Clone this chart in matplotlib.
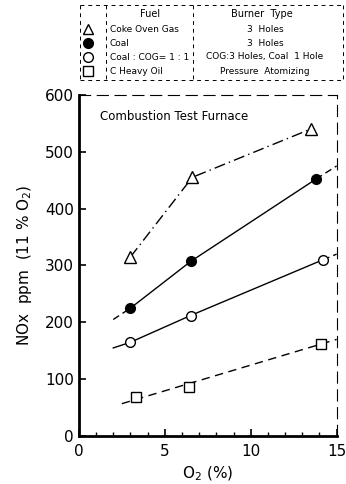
import matplotlib
matplotlib.use("Agg")
import matplotlib.pyplot as plt
from matplotlib.lines import Line2D

# data
o2_cog = [3.0, 6.6, 13.5]
nox_cog = [315, 455, 540]
o2_coal = [3.0, 6.5, 13.8]
nox_coal = [225, 307, 452]
o2_mix = [3.0, 6.5, 14.2]
nox_mix = [165, 212, 310]
o2_oil = [3.3, 6.4, 14.1]
nox_oil = [68, 87, 162]

# trend-line ends (extended beyond points)
coal_ext = ([2.0, 3.0], [205, 225], [13.8, 15.0], [452, 475])
mix_ext = ([2.0, 3.0], [155, 165], [14.2, 15.0], [310, 320])
oil_ext = ([2.5, 15.0], [57, 170])

fuels = ["Coke Oven Gas", "Coal", "Coal : COG= 1 : 1", "C Heavy Oil"]
burners = ["3  Holes", "3  Holes", "COG:3 Holes, Coal  1 Hole", "Pressure  Atomizing"]
markers = [("^", "white"), ("o", "black"), ("o", "white"), ("s", "white")]

plt.rcParams['font.family'] = ['DejaVu Sans']
fig = plt.figure(figsize=(3.46, 4.84), dpi=100)
ax = fig.add_axes([0.228, 0.099, 0.745, 0.705])

ms = 8
ax.plot(o2_cog, nox_cog, color="black", lw=1, linestyle=(0, (8, 3, 1, 3)),
        marker="^", ms=ms, mfc="white", mec="black", zorder=3)
ax.plot(o2_coal, nox_coal, color="black", lw=1, marker="o", ms=ms - 1,
        mfc="black", mec="black", zorder=3)
ax.plot(coal_ext[0], coal_ext[1], color="black", lw=1, linestyle=(0, (5, 3)))
ax.plot(coal_ext[2], coal_ext[3], color="black", lw=1, linestyle=(0, (5, 3)))
ax.plot(o2_mix, nox_mix, color="black", lw=1, marker="o", ms=ms - 1,
        mfc="white", mec="black", zorder=3)
ax.plot(mix_ext[0], mix_ext[1], color="black", lw=1)
ax.plot(mix_ext[2], mix_ext[3], color="black", lw=1, linestyle=(0, (5, 3)))
ax.plot(oil_ext[0], oil_ext[1], color="black", lw=1, linestyle=(0, (6, 4)))
ax.plot(o2_oil, nox_oil, color="black", lw=0, marker="s", ms=ms - 1,
        mfc="white", mec="black", zorder=3)

ax.set_xlim(0, 15)
ax.set_ylim(0, 600)
ax.set_xticks([0, 5, 10, 15])
ax.set_xticks(range(0, 16), minor=True)
ax.set_yticks(range(0, 601, 100))
ax.tick_params(axis="both", direction="in", labelsize=11, length=5, width=1.2)
ax.tick_params(axis="x", which="minor", direction="in", length=3, width=1)
ax.tick_params(axis="x", pad=6)
ax.spines["left"].set_linewidth(2)
ax.spines["bottom"].set_linewidth(2)
for s in ["top", "right"]:
    ax.spines[s].set_linewidth(0.8)
    ax.spines[s].set_linestyle((0, (10, 6)))

ax.set_xlabel("O$_2$ (%)", fontsize=11)
ax.set_ylabel("NOx  ppm  (11 % O$_2$)", fontsize=11, labelpad=8)
ax.text(0.08, 0.955, "Combustion Test Furnace", transform=ax.transAxes,
        fontsize=8.5, va="top")

# legend table at top
W, H = 346, 484
def fx(x):
    return x / W
def fy(y):
    return 1 - y / H

fig.text(fx(150), fy(14), "Fuel", fontsize=7, ha="center", va="center")
fig.text(fx(262), fy(14), "Burner  Type", fontsize=7, ha="center", va="center")
rows = [29, 43, 57, 71]
for (mk, fc), fuel, burner, ry in zip(markers, fuels, burners, rows):
    fig.add_artist(Line2D([fx(88)], [fy(ry)], marker=mk, ms=7, mfc=fc,
                          mec="black", lw=0, transform=fig.transFigure))
    fig.text(fx(110), fy(ry), fuel, fontsize=6.5, ha="left", va="center")
    fig.text(fx(265), fy(ry), burner, fontsize=6.5, ha="center", va="center")
box = dict(color="black", lw=0.7, linestyle=(0, (4, 4)), transform=fig.transFigure)
fig.add_artist(Line2D([fx(80), fx(343)], [fy(5), fy(5)], **box))
fig.add_artist(Line2D([fx(80), fx(343)], [fy(80), fy(80)], **box))
fig.add_artist(Line2D([fx(80), fx(80)], [fy(5), fy(80)], **box))
fig.add_artist(Line2D([fx(343), fx(343)], [fy(5), fy(80)], **box))
fig.add_artist(Line2D([fx(106), fx(106)], [fy(5), fy(80)], **box))
fig.add_artist(Line2D([fx(193), fx(193)], [fy(5), fy(80)], **box))

fig.savefig("out.png", dpi=100)
